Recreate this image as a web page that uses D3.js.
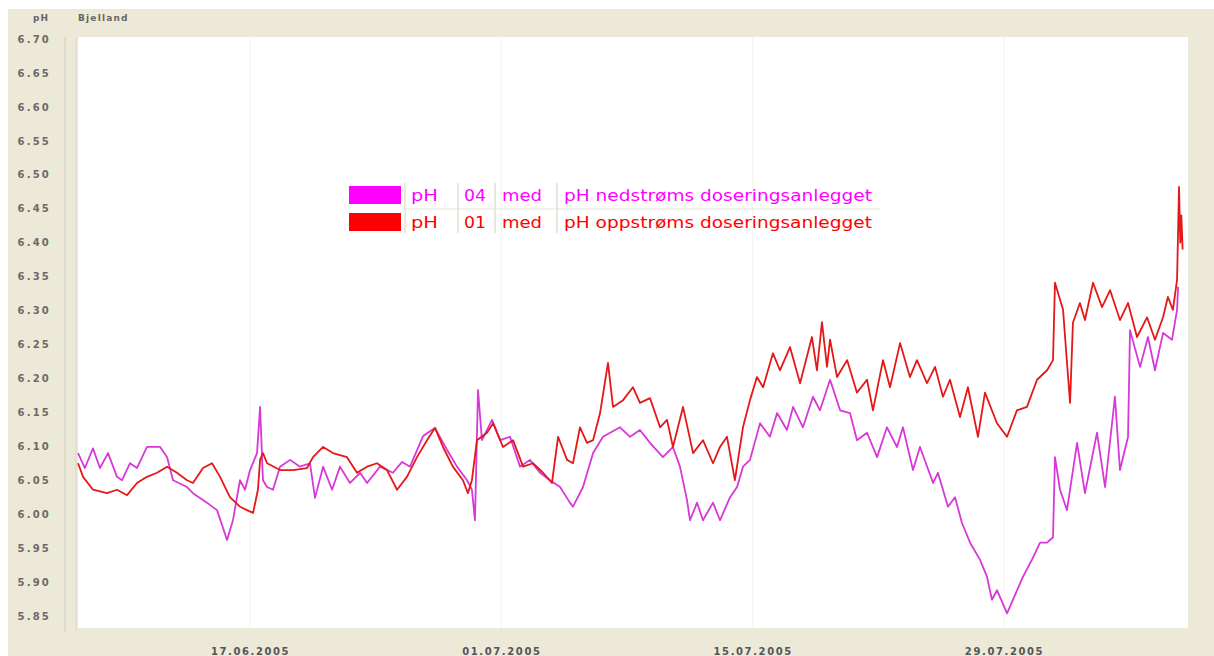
<!DOCTYPE html>
<html>
<head>
<meta charset="utf-8">
<script src="https://cdn.jsdelivr.net/npm/d3@7"></script>
<style>
  body { margin: 0; background: #fff; }
  svg { display: block; }
</style>
</head>
<body>
<div id="chart"></div>
<script>
// ---- data (days after 07.06.2005 00:00, pH) ----
var magentaDays = [0.42,0.80,1.25,1.64,2.09,2.59,2.87,3.31,3.70,4.26,
  4.99,5.38,5.71,6.49,6.82,7.60,8.16,8.72,9.05,9.44,
  9.72,10.00,10.39,10.56,10.72,10.95,11.28,11.67,12.23,12.78,
  13.34,13.62,14.07,14.57,15.01,15.57,16.13,16.52,17.24,17.96,
  18.47,18.91,19.64,20.30,20.97,21.53,22.09,22.36,22.53,22.70,
  22.92,23.48,23.93,24.48,25.04,25.59,26.15,26.71,27.27,27.82,
  27.99,28.55,29.11,29.66,30.61,31.17,31.72,32.28,33.00,33.56,
  33.95,34.34,34.51,34.90,35.23,35.79,36.18,36.74,37.13,37.46,
  37.85,38.41,38.96,39.36,39.91,40.25,40.80,41.36,41.75,42.31,
  42.87,43.42,43.81,44.37,44.93,45.48,46.04,46.37,46.93,47.32,
  48.05,48.32,48.88,49.27,49.66,50.11,50.66,51.05,51.33,51.61,
  52.17,52.50,53.06,53.56,54.01,54.40,54.73,54.84,55.12,55.51,
  56.07,56.51,57.18,57.63,58.18,58.46,58.91,59.02,59.58,60.02,
  60.41,60.86,61.36,61.64,61.70];
var magentaPH = [6.090,6.068,6.097,6.068,6.090,6.055,6.050,6.075,6.068,6.099,
  6.099,6.084,6.050,6.040,6.031,6.017,6.006,5.962,5.991,6.050,
  6.036,6.065,6.090,6.158,6.050,6.040,6.036,6.070,6.080,6.070,
  6.075,6.024,6.070,6.036,6.070,6.046,6.061,6.046,6.070,6.061,
  6.077,6.070,6.115,6.127,6.095,6.070,6.050,6.036,5.991,6.183,
  6.109,6.139,6.109,6.114,6.070,6.080,6.061,6.050,6.040,6.017,
  6.011,6.040,6.090,6.114,6.128,6.114,6.124,6.105,6.084,6.099,
  6.070,6.021,5.991,6.017,5.991,6.017,5.991,6.025,6.040,6.070,
  6.080,6.134,6.114,6.149,6.124,6.158,6.128,6.173,6.153,6.198,
  6.153,6.149,6.109,6.120,6.084,6.128,6.099,6.128,6.065,6.099,
  6.046,6.061,6.011,6.025,5.987,5.958,5.933,5.908,5.874,5.888,
  5.854,5.874,5.908,5.933,5.958,5.958,5.966,6.084,6.036,6.006,
  6.105,6.031,6.120,6.040,6.173,6.065,6.114,6.271,6.217,6.261,
  6.212,6.267,6.257,6.301,6.335];

var redDays = [0.42,0.70,1.25,2.03,2.59,3.15,3.70,4.26,4.82,5.38,
  5.93,6.49,6.82,7.38,7.88,8.33,8.88,9.44,9.83,10.17,
  10.44,10.56,10.72,10.95,11.67,12.40,13.17,13.51,14.07,14.62,
  15.40,15.96,16.52,17.07,17.63,18.19,18.74,19.30,19.86,20.30,
  20.75,21.30,21.86,22.14,22.36,22.64,23.20,23.54,24.09,24.65,
  25.21,25.76,26.32,26.82,27.16,27.66,27.99,28.38,28.77,29.11,
  29.50,29.94,30.22,30.78,31.33,31.72,32.28,32.84,33.23,33.56,
  34.12,34.68,35.23,35.79,36.18,36.57,37.01,37.46,37.85,38.24,
  38.58,39.13,39.52,40.08,40.64,41.30,41.58,41.86,42.14,42.31,
  42.70,43.26,43.81,44.37,44.70,45.26,45.65,46.21,46.76,47.15,
  47.71,48.16,48.60,48.99,49.55,49.99,50.55,50.94,51.61,52.17,
  52.72,53.28,53.84,54.40,54.73,54.84,55.29,55.51,55.68,55.84,
  56.23,56.51,56.96,57.46,57.91,58.46,58.91,59.41,59.97,60.41,
  60.86,61.13,61.41,61.64,61.75,61.82,61.88,61.95];
var redPH = [6.075,6.055,6.036,6.031,6.036,6.028,6.046,6.055,6.061,6.070,
  6.061,6.050,6.046,6.068,6.075,6.055,6.025,6.011,6.006,6.002,
  6.036,6.080,6.090,6.075,6.065,6.065,6.068,6.084,6.099,6.090,
  6.084,6.061,6.070,6.075,6.065,6.036,6.055,6.084,6.109,6.127,
  6.099,6.070,6.050,6.031,6.050,6.109,6.120,6.134,6.099,6.109,
  6.070,6.075,6.061,6.046,6.114,6.080,6.075,6.128,6.105,6.109,
  6.149,6.223,6.158,6.168,6.187,6.164,6.171,6.128,6.139,6.099,
  6.158,6.090,6.109,6.075,6.099,6.114,6.050,6.128,6.168,6.202,
  6.187,6.237,6.212,6.246,6.193,6.261,6.212,6.283,6.217,6.257,
  6.202,6.227,6.179,6.198,6.153,6.227,6.187,6.252,6.202,6.227,
  6.193,6.217,6.173,6.198,6.143,6.187,6.114,6.179,6.134,6.114,
  6.153,6.158,6.198,6.212,6.227,6.341,6.301,6.223,6.164,6.282,
  6.311,6.286,6.341,6.305,6.330,6.286,6.311,6.261,6.290,6.257,
  6.290,6.320,6.301,6.345,6.482,6.400,6.440,6.390];

var yTicks = [5.85,5.90,5.95,6.00,6.05,6.10,6.15,6.20,6.25,6.30,6.35,6.40,6.45,6.50,6.55,6.60,6.65,6.70];
var xTickDates = ['2005-06-17','2005-07-01','2005-07-15','2005-07-29'];
var xTickLabels = ['17.06.2005','01.07.2005','15.07.2005','29.07.2005'];

var legendParams = ['pH','pH'];
var legendCodes = ['04','01'];
var legendStat = ['med','med'];
var legendNames = ['pH nedstrøms doseringsanlegget','pH oppstrøms doseringsanlegget'];
var legendColors = ['#ff00ff','#ff0000'];
var lineColors = ['#d838d8','#e41818'];

// ---- layout ----
var svgwidth = 1214, svgheight = 656;
var plot = {left: 78, right: 1188, top: 37, bottom: 628};
var t0 = new Date(2005, 5, 7);
function toDate(d) { return new Date(t0.getTime() + d * 864e5); }

var svg = d3.select('#chart')
  .append('svg')
    .attr('width', svgwidth)
    .attr('height', svgheight);

// window-style beige panel
svg.append('rect')
  .attr('x', 8).attr('y', 9)
  .attr('width', svgwidth - 8).attr('height', svgheight - 9)
  .attr('fill', '#ece9d9');

svg.append('line')
  .attr('x1', 65).attr('x2', 65).attr('y1', 37).attr('y2', 632)
  .attr('stroke', '#cfccbe');
svg.append('line')
  .attr('x1', 76).attr('x2', 76).attr('y1', 37).attr('y2', 632)
  .attr('stroke', '#dcd9cb');

svg.append('rect')
  .attr('x', plot.left).attr('y', plot.top)
  .attr('width', plot.right - plot.left).attr('height', plot.bottom - plot.top)
  .attr('fill', '#ffffff');

var x = d3.scaleTime()
  .domain([new Date(2005, 5, 7, 10), new Date(2005, 7, 8, 6)])
  .range([plot.left, plot.right]);

var y = d3.scaleLinear()
  .domain([5.85, 6.70])
  .range([616, 39]);

var parseDay = d3.timeParse('%Y-%m-%d');
var tickDates = xTickDates.map(parseDay);

// very faint grid
svg.append('g').selectAll('line')
  .data(tickDates)
  .enter().append('line')
    .attr('x1', function(d) { return x(d); })
    .attr('x2', function(d) { return x(d); })
    .attr('y1', plot.top).attr('y2', plot.bottom)
    .attr('stroke', '#f3f3ef');

// header
svg.append('text')
  .attr('x', 49).attr('y', 21)
  .attr('text-anchor', 'end')
  .attr('font-family', 'DejaVu Sans').attr('font-weight', 'bold')
  .attr('font-size', 9).attr('letter-spacing', 1)
  .attr('fill', '#666')
  .text('pH');
svg.append('text')
  .attr('x', 78).attr('y', 21)
  .attr('font-family', 'DejaVu Sans').attr('font-weight', 'bold')
  .attr('font-size', 9).attr('letter-spacing', 1.2)
  .attr('fill', '#666')
  .text('Bjelland');

// y axis
var yAxis = d3.axisLeft(y)
  .tickValues(yTicks)
  .tickSize(0)
  .tickPadding(0)
  .tickFormat(d3.format('.2f'));
var gY = svg.append('g')
  .attr('transform', 'translate(51,0)')
  .call(yAxis);
gY.select('.domain').remove();
gY.selectAll('text')
  .attr('font-family', 'DejaVu Sans').attr('font-weight', 'bold')
  .attr('font-size', 10).attr('letter-spacing', 2.2)
  .attr('fill', '#6a6a6a');

// x axis
var xAxis = d3.axisBottom(x)
  .tickValues(tickDates)
  .tickSize(0)
  .tickPadding(8)
  .tickFormat(function(d, i) { return xTickLabels[i]; });
var gX = svg.append('g')
  .attr('transform', 'translate(0,640)')
  .call(xAxis);
gX.select('.domain').remove();
gX.selectAll('text')
  .attr('font-family', 'DejaVu Sans').attr('font-weight', 'bold')
  .attr('font-size', 10).attr('letter-spacing', 1.6)
  .attr('fill', '#555');

// lines
var line = d3.line()
  .x(function(d) { return x(toDate(d[0])); })
  .y(function(d) { return y(d[1]); });

var series = [d3.zip(magentaDays, magentaPH), d3.zip(redDays, redPH)];
var focus = svg.append('g');
series.forEach(function(s, i) {
  focus.append('path')
    .datum(s)
    .attr('fill', 'none')
    .attr('stroke', lineColors[i])
    .attr('stroke-width', 1.8)
    .attr('stroke-linejoin', 'round')
    .attr('d', line);
});

// legend
var legend = svg.append('g').attr('font-family', 'DejaVu Sans').attr('font-size', 16);
var rowY = [186, 213];
legend.append('line')
  .attr('x1', 404).attr('x2', 880).attr('y1', 209).attr('y2', 209)
  .attr('stroke', '#e6e3d6');
[405, 458, 495, 557].forEach(function(sx) {
  legend.append('line')
    .attr('x1', sx).attr('x2', sx).attr('y1', 183).attr('y2', 233)
    .attr('stroke', '#e3e0d2').attr('stroke-width', 1.5);
});
function legendText(tx, ty, len, color, str) {
  legend.append('text').attr('x', tx).attr('y', ty)
    .attr('fill', color)
    .attr('textLength', len)
    .attr('lengthAdjust', 'spacingAndGlyphs')
    .text(str);
}
legendNames.forEach(function(name, i) {
  var ty = rowY[i] + 15;
  legend.append('rect')
    .attr('x', 349).attr('y', rowY[i])
    .attr('width', 52).attr('height', 18)
    .attr('fill', legendColors[i]);
  legendText(411, ty, 27, legendColors[i], legendParams[i]);
  legendText(464, ty, 22, legendColors[i], legendCodes[i]);
  legendText(502, ty, 40, legendColors[i], legendStat[i]);
  legendText(564, ty, 308, legendColors[i], name);
});
</script>
</body>
</html>
